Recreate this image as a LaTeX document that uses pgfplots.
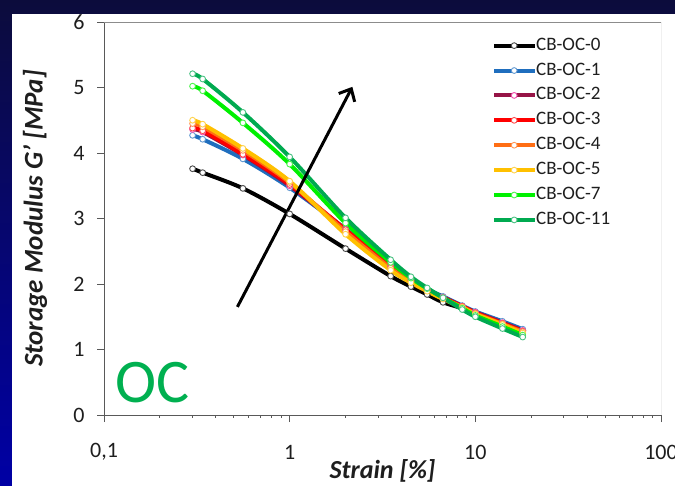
\documentclass[border=0pt]{standalone}
\usepackage{fontspec}
\setmainfont{Carlito}
\usepackage{pgfplots}
\pgfplotsset{compat=1.18}
\usetikzlibrary{arrows.meta}

\definecolor{c0}{RGB}{0,0,0}
\definecolor{c1}{RGB}{31,110,190}
\definecolor{c2}{RGB}{150,20,70}
\definecolor{c3}{RGB}{255,0,0}
\definecolor{c4}{RGB}{255,110,20}
\definecolor{c5}{RGB}{255,192,0}
\definecolor{c7}{RGB}{0,240,0}
\definecolor{c11}{RGB}{0,170,80}
\definecolor{ocgreen}{RGB}{0,176,80}
\definecolor{bgtop}{RGB}{12,12,60}
\definecolor{bgbot}{RGB}{0,0,165}
\definecolor{txt}{RGB}{30,30,30}

\pgfplotsset{
  ser/.style={smooth, tension=0.5, line width=4bp, color=#1,
    mark=*, mark size=2.9bp,
    mark options={fill=white, draw=#1!70!white, line width=0.9bp}},
}

\begin{document}
\begin{tikzpicture}
\useasboundingbox (0bp,0bp) rectangle (675bp,486bp);
\shade[top color=bgtop, bottom color=bgbot] (0bp,0bp) rectangle (675bp,486bp);
\fill[white] (12bp,0bp) rectangle (675bp,472bp);

\begin{axis}[
  at={(104bp,71bp)}, anchor=south west,
  scale only axis, width=557bp, height=393bp,
  xmode=log, xmin=0.1, xmax=100,
  ymin=0, ymax=6,
  xtick={0.1,1,10,100}, xticklabels={{0,1},1,10,100},
  ytick={0,1,2,3,4,5,6},
  minor xtick={}, minor ytick={},
  axis lines=left,
  axis line style={-, color=black!65, line width=0.9bp},
  tick align=outside, major tick length=7bp,
  tick style={color=black!65, line width=0.9bp},
  /pgf/number format/assume math mode=true,
  tick label style={font=\fontsize{22bp}{24bp}\selectfont, text=txt},
  xticklabel style={anchor=center, yshift=-30bp},
  yticklabel style={anchor=east, xshift=-9bp},
  xlabel={\textbf{\textit{Strain [\%]}}},
  ylabel={\textbf{\textit{Storage Modulus G' [MPa]}}},
  every axis x label/.style={at={(axis description cs:0.5,-0.141)}, anchor=center,
    font=\fontsize{26bp}{28bp}\selectfont, text=txt},
  every axis y label/.style={at={(axis description cs:-0.124,0.5)}, anchor=center, rotate=90,
    font=\fontsize{27bp}{29bp}\selectfont, text=txt},
  legend cell align=left,
  legend image code/.code={
    \draw[mark repeat=2, mark phase=2] plot coordinates {(0bp,0bp) (20bp,0bp) (40bp,0bp)};},
  legend style={at={(axis description cs:0.6966,0.9620)}, anchor=north west,
    draw=none, fill=none, inner sep=0pt, row sep=7.9bp,
    font=\fontsize{19bp}{21bp}\selectfont, text=txt,
    nodes={inner sep=0pt, text height=13bp, text depth=4bp},
    /tikz/every even column/.append style={column sep=3bp}},
]

\addplot[ser=c0] coordinates {
  (0.3,3.76) (0.34,3.70) (0.56,3.46) (1.0,3.07) (2.0,2.54) (3.5,2.12) (4.5,1.96)
  (5.5,1.84) (6.7,1.72) (8.5,1.63) (10,1.56) (14,1.41) (18,1.29)};
\addlegendentry{CB-OC-0}
\addplot[ser=c1] coordinates {
  (0.3,4.27) (0.34,4.21) (0.56,3.91) (1.0,3.47) (2.0,2.84) (3.5,2.28) (4.5,2.07)
  (5.5,1.92) (6.7,1.81) (8.5,1.67) (10,1.58) (14,1.43) (18,1.31)};
\addlegendentry{CB-OC-1}
\addplot[ser=c2, mark options={fill=white, draw=magenta!70!white, line width=0.9bp}] coordinates {
  (0.3,4.36) (0.34,4.32) (0.56,3.97) (1.0,3.50) (2.0,2.83) (3.5,2.27) (4.5,2.06)
  (5.5,1.91) (6.7,1.80) (8.5,1.66) (10,1.57) (14,1.41) (18,1.29)};
\addlegendentry{CB-OC-2}
\addplot[ser=c3] coordinates {
  (0.3,4.38) (0.34,4.34) (0.56,3.98) (1.0,3.52) (2.0,2.83) (3.5,2.26) (4.5,2.05)
  (5.5,1.91) (6.7,1.79) (8.5,1.66) (10,1.56) (14,1.40) (18,1.28)};
\addlegendentry{CB-OC-3}
\addplot[ser=c4] coordinates {
  (0.3,4.45) (0.34,4.40) (0.56,4.04) (1.0,3.55) (2.0,2.80) (3.5,2.24) (4.5,2.04)
  (5.5,1.90) (6.7,1.78) (8.5,1.65) (10,1.55) (14,1.39) (18,1.27)};
\addlegendentry{CB-OC-4}
\addplot[ser=c5] coordinates {
  (0.3,4.50) (0.34,4.44) (0.56,4.07) (1.0,3.57) (2.0,2.76) (3.5,2.21) (4.5,2.02)
  (5.5,1.89) (6.7,1.77) (8.5,1.64) (10,1.54) (14,1.38) (18,1.25)};
\addlegendentry{CB-OC-5}
\addplot[ser=c7] coordinates {
  (0.3,5.02) (0.34,4.95) (0.56,4.46) (1.0,3.83) (2.0,2.93) (3.5,2.33) (4.5,2.09)
  (5.5,1.93) (6.7,1.79) (8.5,1.63) (10,1.52) (14,1.35) (18,1.22)};
\addlegendentry{CB-OC-7}
\addplot[ser=c11] coordinates {
  (0.3,5.21) (0.34,5.13) (0.56,4.62) (1.0,3.94) (2.0,3.01) (3.5,2.37) (4.5,2.11)
  (5.5,1.94) (6.7,1.79) (8.5,1.61) (10,1.50) (14,1.32) (18,1.19)};
\addlegendentry{CB-OC-11}

\draw[black!45, line width=0.9bp] (rel axis cs:0,1) -- (rel axis cs:1,1) -- (rel axis cs:1,0);
\draw[black, line width=3bp, -{Straight Barb[length=10bp, width=18bp, line width=3bp]}]
  (axis cs:0.523,1.65) -- (axis cs:2.176,5.01);
\node[text=ocgreen, font=\fontsize{62bp}{66bp}\selectfont, anchor=center] at (axis cs:0.1824,0.5) {OC};
\end{axis}
\end{tikzpicture}
\end{document}
